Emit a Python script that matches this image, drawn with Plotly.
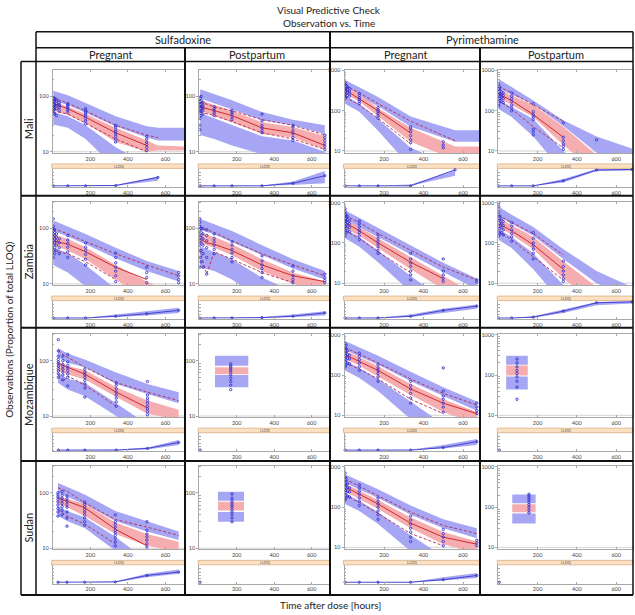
import plotly.graph_objects as go

# ---------------- data ----------------
COUNTRIES = ["Mali", "Zambia", "Mozambique", "Sudan"]
DRUGS = ["Sulfadoxine", "Pyrimethamine"]
GROUPS = ["Pregnant", "Postpartum"]
COL_KEYS = ["SP|Preg", "SP|Post", "PY|Preg", "PY|Post"]
X_TICKS = [200, 400, 600]
Y_TICKS_SP = [10, 100]
Y_TICKS_PY = [10, 100, 1000]

T_BAND = {
    "SP|Preg|Mali": [3, 80, 175, 335, 500, 560, 700],
    "SP|Post|Mali": [5, 80, 175, 335, 500, 670],
    "PY|Preg|Mali": [3, 75, 170, 335, 560, 690],
    "PY|Post|Mali": [1, 68, 178, 331, 500, 680],
    "SP|Preg|Zambia": [3, 80, 175, 335, 500, 670],
    "SP|Post|Zambia": [3, 80, 175, 335, 500, 670],
    "PY|Preg|Zambia": [3, 75, 170, 335, 500, 670],
    "PY|Post|Zambia": [1, 68, 178, 331, 500, 680],
    "SP|Preg|Mozambique": [28, 55, 80, 170, 338, 504, 670],
    "SP|Post|Mozambique": [84, 262],
    "PY|Preg|Mozambique": [3, 75, 170, 335, 500, 670],
    "PY|Post|Mozambique": [40, 150],
    "SP|Preg|Sudan": [28, 50, 76, 170, 333, 501, 670],
    "SP|Post|Sudan": [100, 239],
    "PY|Preg|Sudan": [3, 75, 170, 335, 500, 670],
    "PY|Post|Sudan": [71, 190],
}
HI_TOP = {
    "SP|Preg|Mali": [126, 105, 76, 44, 29, 27, 27],
    "SP|Post|Mali": [135, 110, 85, 52, 38, 30],
    "PY|Preg|Mali": [580, 380, 220, 72, 33, 33],
    "PY|Post|Mali": [620, 390, 180, 58, 23, 11.6],
    "SP|Preg|Zambia": [140, 110, 80, 45, 26, 17],
    "SP|Post|Zambia": [150, 120, 90, 50, 28, 17],
    "PY|Preg|Zambia": [650, 420, 240, 90, 32, 13],
    "PY|Post|Zambia": [800, 500, 250, 70, 20, 8],
    "SP|Preg|Mozambique": [168, 150, 135, 105, 61, 38, 27],
    "SP|Post|Mozambique": [123, 123],
    "PY|Preg|Mozambique": [700, 480, 300, 120, 50, 22],
    "PY|Post|Mozambique": [300, 300],
    "SP|Preg|Sudan": [151, 140, 130, 93, 47, 31, 20],
    "SP|Post|Sudan": [104, 104],
    "PY|Preg|Sudan": [650, 450, 280, 110, 50, 30],
    "PY|Post|Sudan": [205, 205],
}
HI_BOT = {
    "SP|Preg|Mali": [84, 70, 50, 29, 18, 16, 16],
    "SP|Post|Mali": [92, 75, 58, 37, 30, 21],
    "PY|Preg|Mali": [340, 230, 130, 40, 17, 17],
    "PY|Post|Mali": [370, 250, 145, 42, 9, 5],
    "SP|Preg|Zambia": [90, 72, 52, 29, 17, 11],
    "SP|Post|Zambia": [95, 78, 58, 33, 19, 12],
    "PY|Preg|Zambia": [380, 250, 140, 52, 19, 7],
    "PY|Post|Zambia": [450, 300, 150, 40, 10, 4],
    "SP|Preg|Mozambique": [115, 102, 92, 76, 38, 25, 17],
    "SP|Post|Mozambique": [81, 81],
    "PY|Preg|Mozambique": [420, 290, 180, 70, 30, 13],
    "PY|Post|Mozambique": [180, 180],
    "SP|Preg|Sudan": [100, 92, 85, 62, 31, 20, 14],
    "SP|Post|Sudan": [72, 72],
    "PY|Preg|Sudan": [400, 280, 170, 65, 30, 17],
    "PY|Post|Sudan": [125, 125],
}
MD_TOP = {
    "SP|Preg|Mali": [80, 66, 48, 27, 16, 13, 12.5],
    "SP|Post|Mali": [85, 70, 55, 34, 28, 19],
    "PY|Preg|Mali": [400, 260, 115, 38, 13, 13],
    "PY|Post|Mali": [350, 240, 140, 40, 8, 4],
    "SP|Preg|Zambia": [80, 65, 46, 22, 11, 6],
    "SP|Post|Zambia": [85, 70, 52, 28, 16, 11],
    "PY|Preg|Zambia": [380, 250, 130, 45, 15, 5],
    "PY|Post|Zambia": [420, 280, 140, 35, 8, 3],
    "SP|Preg|Mozambique": [93, 85, 80, 68, 33, 19, 13],
    "SP|Post|Mozambique": [76, 76],
    "PY|Preg|Mozambique": [400, 280, 165, 60, 25, 12],
    "PY|Post|Mozambique": [172, 172],
    "SP|Preg|Sudan": [87, 82, 78, 63, 29, 18, 13],
    "SP|Post|Sudan": [69, 69],
    "PY|Preg|Sudan": [380, 260, 150, 55, 24, 14],
    "PY|Post|Sudan": [118, 118],
}
MD_BOT = {
    "SP|Preg|Mali": [55, 46, 33, 15, 10, 10.5, 10.5],
    "SP|Post|Mali": [55, 45, 34, 21, 18, 11],
    "PY|Preg|Mali": [260, 170, 72, 17, 6, 6],
    "PY|Post|Mali": [200, 140, 70, 14, 3, 2],
    "SP|Preg|Zambia": [50, 40, 28, 12, 5, 2.5],
    "SP|Post|Zambia": [55, 45, 33, 17, 10, 7],
    "PY|Preg|Zambia": [230, 150, 75, 22, 7, 2],
    "PY|Post|Zambia": [240, 160, 70, 13, 3, 1],
    "SP|Preg|Mozambique": [66, 60, 56, 46, 22, 11, 8.5],
    "SP|Post|Mozambique": [57, 57],
    "PY|Preg|Mozambique": [250, 170, 95, 32, 12, 6],
    "PY|Post|Mozambique": [97, 97],
    "SP|Preg|Sudan": [62, 58, 55, 38, 18, 11, 8.5],
    "SP|Post|Sudan": [48, 48],
    "PY|Preg|Sudan": [240, 160, 90, 30, 12, 7],
    "PY|Post|Sudan": [75, 75],
}
LO_TOP = {
    "SP|Preg|Mali": [52, 44, 30, 12, 6, 5, 5],
    "SP|Post|Mali": [50, 40, 30, 19, 16, 10],
    "PY|Preg|Mali": [240, 150, 62, 12, 4, 4],
    "PY|Post|Mali": [190, 125, 62, 10, 2, 1],
    "SP|Preg|Zambia": [45, 36, 22, 8, 3, 1],
    "SP|Post|Zambia": [48, 38, 28, 13, 7, 4],
    "PY|Preg|Zambia": [220, 140, 65, 15, 4, 1],
    "PY|Post|Zambia": [220, 140, 55, 9, 2, 0.5],
    "SP|Preg|Mozambique": [60, 52, 47, 40, 17, 7, 4],
    "SP|Post|Mozambique": [55, 55],
    "PY|Preg|Mozambique": [230, 150, 80, 22, 6, 2],
    "PY|Post|Mozambique": [92, 92],
    "SP|Preg|Sudan": [58, 52, 47, 36, 16, 6, 3],
    "SP|Post|Sudan": [45, 45],
    "PY|Preg|Sudan": [220, 145, 75, 20, 6, 3],
    "PY|Post|Sudan": [70, 70],
}
LO_BOT = {
    "SP|Preg|Mali": [31, 27, 17, 5, 2, 2, 2],
    "SP|Post|Mali": [20, 17, 13, 9, 7, 6],
    "PY|Preg|Mali": [150, 95, 32, 4, 1, 1],
    "PY|Post|Mali": [110, 70, 23, 3, 1, 0.5],
    "SP|Preg|Zambia": [22, 16, 9, 3, 1, 0.5],
    "SP|Post|Zambia": [20, 17, 12, 5, 2.5, 1.5],
    "PY|Preg|Zambia": [130, 80, 33, 6, 1.5, 0.5],
    "PY|Post|Zambia": [120, 75, 22, 3, 0.6, 0.2],
    "SP|Preg|Mozambique": [40, 34, 30, 23, 10, 3, 1.5],
    "SP|Post|Mozambique": [33, 33],
    "PY|Preg|Mozambique": [130, 85, 40, 8, 2, 0.7],
    "PY|Post|Mozambique": [44, 44],
    "SP|Preg|Sudan": [38, 34, 31, 23, 9, 3, 1.5],
    "SP|Post|Sudan": [30, 30],
    "PY|Preg|Sudan": [120, 80, 38, 8, 2, 1],
    "PY|Post|Sudan": [39, 39],
}

T_OBS = {
    "SP|Preg|Mali": [3, 35, 80, 175, 335, 500, 560],
    "SP|Post|Mali": [5, 80, 175, 335, 500, 670],
    "PY|Preg|Mali": [3, 75, 170, 335, 560],
    "PY|Post|Mali": [1, 68, 178, 331],
    "SP|Preg|Zambia": [3, 80, 175, 335, 500, 670],
    "SP|Post|Zambia": [3, 20, 40, 80, 175, 335, 500, 670],
    "PY|Preg|Zambia": [3, 75, 170, 335, 500, 670],
    "PY|Post|Zambia": [1, 68, 178, 331],
    "SP|Preg|Mozambique": [30, 54, 80, 171, 338, 504, 670],
    "SP|Post|Mozambique": [],
    "PY|Preg|Mozambique": [3, 75, 170, 335, 500, 670],
    "PY|Post|Mozambique": [],
    "SP|Preg|Sudan": [28, 50, 76, 170, 333, 501, 670],
    "SP|Post|Sudan": [],
    "PY|Preg|Sudan": [3, 75, 170, 335, 500, 670],
    "PY|Post|Sudan": [],
}
OBS_HI = {
    "SP|Preg|Mali": [95, 85, 75, 55, 30, 20, 18],
    "SP|Post|Mali": [80, 65, 55, 38, 30, 20],
    "PY|Preg|Mali": [420, 280, 150, 55, 18],
    "PY|Post|Mali": [400, 280, 140, 55],
    "SP|Preg|Zambia": [100, 80, 58, 35, 22, 14],
    "SP|Post|Zambia": [110, 100, 95, 85, 60, 35, 22, 14],
    "PY|Preg|Zambia": [480, 320, 170, 65, 25, 12],
    "PY|Post|Zambia": [480, 320, 170, 50],
    "SP|Preg|Mozambique": [155, 130, 115, 76, 40, 27, 19],
    "SP|Post|Mozambique": [],
    "PY|Preg|Mozambique": [480, 330, 200, 80, 35, 18],
    "PY|Post|Mozambique": [],
    "SP|Preg|Sudan": [123, 115, 107, 66, 33, 24, 17],
    "SP|Post|Sudan": [],
    "PY|Preg|Sudan": [500, 330, 200, 75, 35, 22],
    "PY|Post|Sudan": [],
}
OBS_MED = {
    "SP|Preg|Mali": [72, 68, 60, 42, 22, 13, None],
    "SP|Post|Mali": [65, 55, 45, 27, 22, 13],
    "PY|Preg|Mali": [330, 200, 100, 28, None],
    "PY|Post|Mali": [260, 180, 80, 22],
    "SP|Preg|Zambia": [60, 52, 38, 20, 12, None],
    "SP|Post|Zambia": [65, 60, 55, 52, 40, 22, 14, 11],
    "PY|Preg|Zambia": [320, 200, 100, 33, 13, None],
    "PY|Post|Zambia": [300, 200, 90, 22],
    "SP|Preg|Mozambique": [90, 82, 76, 57, 27, 14, None],
    "SP|Post|Mozambique": [],
    "PY|Preg|Mozambique": [320, 220, 130, 45, 20, 11],
    "PY|Post|Mozambique": [],
    "SP|Preg|Sudan": [81, 76, 71, 54, 22, 11, None],
    "SP|Post|Sudan": [],
    "PY|Preg|Sudan": [320, 210, 120, 40, 18, 12],
    "PY|Post|Sudan": [],
}
OBS_LO = {
    "SP|Preg|Mali": [50, 52, 48, 33, 17, 10, None],
    "SP|Post|Mali": [52, 45, 35, 22, 17, 11],
    "PY|Preg|Mali": [220, 140, 65, 15, None],
    "PY|Post|Mali": [180, 110, 40, 12],
    "SP|Preg|Zambia": [40, 35, 25, 12, None, None],
    "SP|Post|Zambia": [40, 25, 15, 38, 28, 16, 10.5, None],
    "PY|Preg|Zambia": [200, 130, 60, 18, None, None],
    "PY|Post|Zambia": [190, 120, 45, 12],
    "SP|Preg|Mozambique": [57, 42, 53, 36, 15, None, None],
    "SP|Post|Mozambique": [],
    "PY|Preg|Mozambique": [200, 140, 80, 25, 11, None],
    "PY|Post|Mozambique": [],
    "SP|Preg|Sudan": [50, 44, 38, 27, 12, None, None],
    "SP|Post|Sudan": [],
    "PY|Preg|Sudan": [200, 130, 70, 22, 11, None],
    "PY|Post|Sudan": [],
}

# observations: [time bin, [concentrations]]
PTS = {
    "SP|Preg|Mali": [[3, [50, 55, 60, 65, 70, 75, 80, 85, 90, 95]], [10, [48, 58, 62, 70, 78, 85, 92]],
                     [20, [45, 60, 68, 74, 82, 88]], [35, [55, 62, 68, 72, 78]], [80, [52, 57, 62, 66, 70, 74]],
                     [175, [32, 36, 40, 44, 48, 52, 56, 60]], [335, [15, 17, 19, 21, 23, 25, 28, 30]],
                     [500, [10.5, 12, 13.5, 15, 17, 19]]],
    "SP|Post|Mali": [[3, [25, 30, 40, 50, 55, 60, 65, 70, 75, 80, 90, 95]], [10, [45, 55, 62, 68, 74, 85, 100]],
                     [20, [48, 56, 63, 70, 78]], [80, [45, 50, 55, 60, 65]], [175, [38, 42, 48, 52, 56]],
                     [335, [22, 24, 27, 30, 36, 48]], [500, [16, 18, 21, 24, 28, 30]],
                     [670, [11, 12.5, 14, 16, 18, 20]]],
    "PY|Preg|Mali": [[3, [200, 250, 300, 350, 400, 450, 500]], [8, [220, 270, 320, 380, 430]],
                     [15, [240, 290, 340, 390]], [25, [230, 270, 310, 360]], [75, [150, 170, 190, 210, 240, 270]],
                     [170, [65, 75, 85, 95, 105, 120]], [335, [11, 16, 19, 24, 30, 35, 40]],
                     [500, [12, 14, 17]]],
    "PY|Post|Mali": [[2, [130, 150, 200, 250, 300, 350, 400, 450]], [8, [180, 220, 260, 320, 380]],
                     [15, [170, 210, 250, 300]], [25, [160, 200, 240, 280]], [68, [100, 120, 140, 170, 200, 230, 280]],
                     [178, [25, 30, 35, 60, 70, 80, 95, 150]], [331, [11, 13, 15, 18, 22, 50]], [500, [19]]],
    "SP|Preg|Zambia": [[3, [30, 40, 50, 60, 70, 80, 90, 100, 110, 150]], [10, [35, 45, 55, 65, 75, 85, 95]],
                       [20, [40, 50, 60, 70, 80]], [35, [35, 45, 55, 65]], [80, [30, 38, 46, 54, 62, 75]],
                       [175, [22, 28, 34, 40, 46, 55]], [335, [11, 14, 17, 20, 24, 30, 36]],
                       [500, [10.5, 13, 16, 20]], [670, [10.5, 12, 14, 16]]],
    "SP|Post|Zambia": [[3, [20, 30, 40, 50, 60, 70, 80, 95, 110, 130, 150]], [10, [25, 40, 55, 70, 85, 100]],
                       [20, [20, 35, 50, 65, 80, 100]], [40, [15, 30, 45, 60, 75, 95]],
                       [80, [35, 42, 50, 58, 66, 80]], [175, [25, 30, 36, 42, 50, 58]],
                       [335, [13, 16, 19, 22, 26, 32]], [500, [10.5, 12, 14, 17, 21]], [670, [10.5, 11.5, 13, 15]]],
    "PY|Preg|Zambia": [[3, [150, 200, 250, 300, 350, 400, 500, 600, 700]], [8, [180, 230, 290, 350, 420, 500]],
                       [15, [200, 260, 320, 380, 450]], [25, [190, 240, 300, 360]],
                       [75, [120, 150, 180, 210, 250, 300, 350]], [170, [55, 65, 80, 95, 110, 130, 160]],
                       [335, [12, 16, 20, 26, 32, 40, 55]], [500, [11, 13, 16, 20, 40]], [670, [10.5, 12]]],
    "PY|Post|Zambia": [[2, [150, 200, 260, 320, 400, 500, 600, 800, 1000]], [8, [170, 230, 300, 380, 460]],
                       [15, [180, 240, 310, 390]], [25, [160, 210, 270, 340]],
                       [68, [110, 140, 170, 210, 260, 320]], [178, [40, 55, 70, 85, 100, 130, 180]],
                       [331, [11, 13, 16, 20, 26, 35]]],
    "SP|Preg|Mozambique": [[30, [50, 58, 65, 72, 80, 88, 95, 105, 120, 150, 240]],
                           [54, [45, 55, 62, 70, 78, 86, 100, 120]], [80, [35, 50, 58, 66, 74, 82, 95, 130]],
                           [171, [22, 32, 38, 44, 50, 56, 62, 70]], [338, [15, 18, 21, 24, 27, 31, 36, 40]],
                           [504, [10.5, 12, 13.5, 15, 17, 19, 21, 24, 42]]],
    "SP|Post|Mozambique": [[168, [30, 36, 42, 48, 55, 62, 68, 74, 80, 88]]],
    "PY|Preg|Mozambique": [[3, [160, 220, 280, 340, 400, 480, 600]], [8, [180, 240, 300, 380, 450, 550]],
                           [15, [200, 260, 320, 400]], [25, [190, 250, 310]],
                           [75, [130, 160, 200, 240, 290, 350]], [170, [70, 90, 110, 130, 150, 180]],
                           [335, [20, 27, 35, 45, 55, 70]], [500, [12, 16, 20, 25, 30, 40, 150]],
                           [670, [11, 13, 16, 20]]],
    "PY|Post|Mozambique": [[95, [25, 50, 70, 90, 110, 130, 160, 200, 250]]],
    "SP|Preg|Sudan": [[28, [38, 45, 52, 60, 68, 76, 84, 92, 100]], [50, [40, 48, 56, 64, 72, 80, 90, 105]],
                      [76, [25, 35, 45, 55, 62, 70, 78, 88]], [170, [26, 30, 35, 40, 45, 50, 56, 62, 68]],
                      [333, [11, 13, 15, 17, 19, 21, 24, 27, 30, 40]], [501, [10.5, 12, 14, 16, 18, 21, 30]]],
    "SP|Post|Sudan": [[175, [30, 35, 40, 45, 50, 55, 60, 66, 72, 80, 95]]],
    "PY|Preg|Sudan": [[3, [150, 200, 260, 320, 380, 450, 550, 700]], [8, [170, 230, 290, 360, 440, 520]],
                      [15, [190, 250, 310, 380]], [25, [180, 240, 300]],
                      [75, [110, 140, 170, 210, 250, 300, 360]], [170, [50, 65, 80, 100, 120, 140, 170]],
                      [335, [14, 18, 24, 30, 38, 48, 60]], [500, [11, 14, 18, 22, 28]], [670, [11, 13, 15]]],
    "PY|Post|Sudan": [[156, [72, 85, 100, 115, 130, 150, 170, 190, 210]]],
}

# proportion below LLOQ (lower strip)
BQ_T = {
    "SP|Preg|Mali": [3, 80, 175, 335, 560],
    "SP|Post|Mali": [5, 80, 175, 335, 500, 670],
    "PY|Preg|Mali": [3, 75, 170, 335, 560],
    "PY|Post|Mali": [1, 68, 178, 331, 500, 680],
    "SP|Preg|Zambia": [3, 80, 175, 335, 500, 670],
    "SP|Post|Zambia": [3, 80, 175, 335, 500, 670],
    "PY|Preg|Zambia": [3, 75, 170, 335, 500, 670],
    "PY|Post|Zambia": [1, 68, 178, 331, 500, 680],
    "SP|Preg|Mozambique": [30, 80, 171, 338, 504, 670],
    "SP|Post|Mozambique": [5],
    "PY|Preg|Mozambique": [3, 75, 170, 335, 500, 670],
    "PY|Post|Mozambique": [5],
    "SP|Preg|Sudan": [28, 76, 170, 333, 501, 670],
    "SP|Post|Sudan": [5],
    "PY|Preg|Sudan": [3, 75, 170, 335, 500, 670],
    "PY|Post|Sudan": [5],
}
BQ_LO = {
    "SP|Preg|Mali": [0, 0, 0, 0, 0.3],
    "SP|Post|Mali": [0, 0, 0, 0, 0.05, 0.15],
    "PY|Preg|Mali": [0, 0, 0, 0, 0.6],
    "PY|Post|Mali": [0, 0, 0, 0.2, 0.88, 0.9],
    "SP|Preg|Zambia": [0, 0, 0, 0.05, 0.15, 0.3],
    "SP|Post|Zambia": [0, 0, 0, 0, 0.05, 0.15],
    "PY|Preg|Zambia": [0, 0, 0, 0.05, 0.3, 0.55],
    "PY|Post|Zambia": [0, 0, 0.02, 0.3, 0.75, 0.85],
    "SP|Preg|Mozambique": [0, 0, 0, 0, 0.03, 0.3],
    "SP|Post|Mozambique": [0],
    "PY|Preg|Mozambique": [0, 0, 0, 0, 0.1, 0.3],
    "PY|Post|Mozambique": [0],
    "SP|Preg|Sudan": [0, 0, 0, 0, 0.3, 0.5],
    "SP|Post|Sudan": [0],
    "PY|Preg|Sudan": [0, 0, 0, 0, 0.1, 0.25],
    "PY|Post|Sudan": [0],
}
BQ_HI = {
    "SP|Preg|Mali": [0, 0.01, 0.02, 0.05, 0.55],
    "SP|Post|Mali": [0, 0, 0, 0.02, 0.25, 0.88],
    "PY|Preg|Mali": [0, 0, 0.02, 0.08, 0.9],
    "PY|Post|Mali": [0, 0, 0.02, 0.4, 1.0, 1.0],
    "SP|Preg|Zambia": [0, 0, 0.02, 0.2, 0.4, 0.6],
    "SP|Post|Zambia": [0, 0, 0, 0.05, 0.2, 0.4],
    "PY|Preg|Zambia": [0, 0, 0.02, 0.2, 0.55, 0.8],
    "PY|Post|Zambia": [0, 0, 0.1, 0.5, 0.95, 1.0],
    "SP|Preg|Mozambique": [0, 0, 0, 0.03, 0.15, 0.6],
    "SP|Post|Mozambique": [0],
    "PY|Preg|Mozambique": [0, 0, 0, 0.02, 0.3, 0.65],
    "PY|Post|Mozambique": [0],
    "SP|Preg|Sudan": [0, 0, 0, 0.05, 0.5, 0.75],
    "SP|Post|Sudan": [0],
    "PY|Preg|Sudan": [0, 0, 0, 0.02, 0.3, 0.55],
    "PY|Post|Sudan": [0],
}
BQ_OBS = {
    "SP|Preg|Mali": [0, 0, 0, 0.02, 0.5],
    "SP|Post|Mali": [0, 0, 0, 0, 0.15, 0.6],
    "PY|Preg|Mali": [0, 0, 0, 0, 0.95],
    "PY|Post|Mali": [0, 0, 0, 0.3, 0.93, 0.97],
    "SP|Preg|Zambia": [0, 0, 0, 0.1, 0.25, 0.45],
    "SP|Post|Zambia": [0, 0, 0, 0.02, 0.1, 0.3],
    "PY|Preg|Zambia": [0, 0, 0, 0.1, 0.45, 0.7],
    "PY|Post|Zambia": [0, 0, 0.05, 0.4, 0.9, 0.95],
    "SP|Preg|Mozambique": [0, 0, 0, 0, 0.1, 0.45],
    "SP|Post|Mozambique": [0],
    "PY|Preg|Mozambique": [0, 0, 0, 0, 0.15, 0.5],
    "PY|Post|Mozambique": [0],
    "SP|Preg|Sudan": [0, 0, 0, 0.02, 0.4, 0.6],
    "SP|Post|Sudan": [0],
    "PY|Preg|Sudan": [0, 0, 0, 0, 0.15, 0.4],
    "PY|Post|Sudan": [0],
}

# ---------------- layout geometry (pixels) ----------------
W, H = 635, 615
COL_X0 = [36, 185, 330, 480]
COL_X1 = [185, 330, 480, 633]
AX0 = [52.7, 199.2, 344.5, 498.3]     # pixel of t = 0
PX200 = [37.6, 37.5, 39.5, 39.3]      # pixels per 200 h
MAIN_BOT0, PITCH, MAIN_H = 152, 133, 84
ROW_LINES = [60, 195, 328, 462, 597]

BLUE = "#A6A6F4"
PINK = "#F6ADB0"
RED = "#D02A2A"
DRED = "#B8284A"
PTBLUE = "#3434D2"
AXC = "#A8A8A8"
FONT = "Lato, 'Open Sans', sans-serif"


def px(x):
    return x / W


def py(y):
    return 1 - y / H


def note(text, x, y, font, angle=0):
    return dict(text=text, x=px(x), y=py(y), xref="paper", yref="paper", showarrow=False,
                xanchor="center", yanchor="middle", textangle=angle, font=font)


fig = go.Figure()
layout = {}
shapes = []
annotations = []
tickfont = dict(size=5.5, color="#444", family=FONT)

idx = 0
for r, country in enumerate(COUNTRIES):
    for c, ck in enumerate(COL_KEYS):
        key = f"{ck}|{country}"
        is_py = ck.startswith("PY")
        im, il = 2 * idx + 1, 2 * idx + 2
        xm, ym = ("x", "y") if im == 1 else (f"x{im}", f"y{im}")
        xl, yl = f"x{il}", f"y{il}"
        bot = MAIN_BOT0 + PITCH * r
        top = bot - MAIN_H
        xmax = (COL_X1[c] - AX0[c]) / PX200[c] * 200
        xdom = [px(AX0[c]), px(COL_X1[c])]

        if is_py:
            yr = [0.95, 0.95 + MAIN_H / 40.5]
            yt = Y_TICKS_PY
            minors = [v * m for v in [10, 100] for m in range(2, 10)]
        else:
            yr = [0.977, 0.977 + MAIN_H / 55.7]
            yt = Y_TICKS_SP
            minors = [v * m for v in [1, 10, 100] for m in range(2, 10)]

        layout["xaxis" if im == 1 else f"xaxis{im}"] = dict(
            domain=xdom, range=[0, xmax], anchor=ym, tickvals=X_TICKS,
            ticks="inside", ticklen=2, tickcolor=AXC, showline=True, linecolor=AXC,
            linewidth=1, mirror="ticks", showgrid=False, zeroline=False,
            tickfont=tickfont, ticklabelstandoff=0)
        layout[f"yaxis{'' if im == 1 else im}"] = dict(
            domain=[py(bot), py(top)], type="log", range=yr, anchor=xm,
            tickvals=yt, ticktext=[str(v) for v in yt], ticks="outside", ticklen=2,
            tickcolor=AXC, showline=True, linecolor=AXC, linewidth=1, mirror=True,
            showgrid=False, zeroline=False, tickfont=tickfont,
            minor=dict(tickvals=minors, ticks="inside", ticklen=1.5, tickcolor=AXC))
        layout[f"xaxis{il}"] = dict(
            domain=xdom, range=[0, xmax], anchor=yl, tickvals=X_TICKS,
            ticks="inside", ticklen=2, tickcolor=AXC, showline=True, linecolor=AXC,
            linewidth=1, showgrid=False, zeroline=False, tickfont=tickfont,
            ticklabelstandoff=0)
        layout[f"yaxis{il}"] = dict(
            domain=[py(bot + 34.4), py(bot + 16)], range=[-0.08, 1.0], anchor=xl,
            tickvals=[0, 0.2, 0.4, 0.6, 0.8, 1.0], ticks="inside", ticklen=1.5,
            tickcolor=AXC, showticklabels=False, showline=True, linecolor=AXC,
            linewidth=1, showgrid=False, zeroline=False)

        # thin reference line at the lowest major tick (10)
        shapes.append(dict(type="line", xref=f"{xm} domain", yref=ym, x0=0, x1=1, y0=10, y1=10,
                           line=dict(color="#C8C8C8", width=0.8), layer="below"))

        t = T_BAND[key]
        for tp, bt, colr in [(HI_TOP, HI_BOT, BLUE), (LO_TOP, LO_BOT, BLUE), (MD_TOP, MD_BOT, PINK)]:
            fig.add_trace(go.Scatter(
                x=t + t[::-1], y=tp[key] + bt[key][::-1], fill="toself", fillcolor=colr,
                mode="lines", line=dict(width=0), xaxis=xm, yaxis=ym, hoverinfo="skip"))

        to = T_OBS[key]
        if to:
            for arr, colr, dash, wd in [(OBS_HI, DRED, "3px,2px", 0.9), (OBS_LO, DRED, "3px,2px", 0.9),
                                        (OBS_MED, RED, "solid", 1.0)]:
                fig.add_trace(go.Scatter(x=to, y=arr[key], mode="lines",
                                         line=dict(color=colr, width=wd, dash=dash),
                                         xaxis=xm, yaxis=ym, hoverinfo="skip"))

        ptx, pty = [], []
        for tb, vals in PTS[key]:
            ptx += [tb] * len(vals)
            pty += vals
        fig.add_trace(go.Scatter(x=ptx, y=pty, mode="markers",
                                 marker=dict(symbol="circle-open", size=2.4, color=PTBLUE,
                                             line=dict(width=0.9, color=PTBLUE)),
                                 xaxis=xm, yaxis=ym, hoverinfo="skip"))

        bt_ = BQ_T[key]
        if len(bt_) > 1:
            fig.add_trace(go.Scatter(
                x=bt_ + bt_[::-1], y=BQ_HI[key] + BQ_LO[key][::-1], fill="toself",
                fillcolor=BLUE, mode="lines", line=dict(width=0), xaxis=xl, yaxis=yl,
                hoverinfo="skip"))
        fig.add_trace(go.Scatter(x=bt_, y=BQ_OBS[key], mode="lines+markers",
                                 line=dict(color="#3A3AC8", width=0.9),
                                 marker=dict(symbol="circle-open", size=2.2, color="#3A3AC8"),
                                 xaxis=xl, yaxis=yl, hoverinfo="skip", cliponaxis=False))

        # LLOQ bar
        shapes.append(dict(type="rect", xref="paper", yref="paper",
                           x0=px(AX0[c] - 1), x1=px(COL_X1[c]),
                           y0=py(bot + 15.5), y1=py(bot + 11),
                           fillcolor="#FCE0C2", line=dict(color="#D8AE86", width=0.8), layer="below"))
        annotations.append(note("LLOQ", (AX0[c] + COL_X1[c]) / 2, bot + 13.3,
                                dict(size=3.8, color="#555", family=FONT)))
        idx += 1

# ---------------- table frame ----------------
def hline(y, x0, x1, w=1.5):
    shapes.append(dict(type="line", xref="paper", yref="paper", x0=px(x0), x1=px(x1),
                       y0=py(y), y1=py(y), line=dict(color="#111", width=w)))


def vline(x, y0, y1, w=1.5):
    shapes.append(dict(type="line", xref="paper", yref="paper", x0=px(x), x1=px(x),
                       y0=py(y0), y1=py(y1), line=dict(color="#111", width=w)))


hline(30, 36, 633)
hline(46, 36, 633)
hline(60, 21, 633)
for yy in ROW_LINES[1:]:
    hline(yy, 21, 633, 2)
vline(21, 60, 597)
vline(36, 30, 597)
vline(185, 46, 597, 2)
vline(330, 30, 597, 2)
vline(480, 46, 597, 2)
vline(633, 30, 597)

hdr = dict(size=11, color="#222", family=FONT)
annotations.append(note(DRUGS[0], 183, 38, hdr))
annotations.append(note(DRUGS[1], 482, 38, hdr))
for cx, g in zip([110, 257, 405, 556], GROUPS * 2):
    annotations.append(note(g, cx, 53, hdr))
for r, country in enumerate(COUNTRIES):
    annotations.append(note(country, 28.5, (ROW_LINES[r] + ROW_LINES[r + 1]) / 2, hdr, -90))

small = dict(size=10, color="#222", family=FONT)
annotations.append(note("Visual Predictive Check", 329, 8, small))
annotations.append(note("Observation vs. Time", 329, 21, small))
annotations.append(note("Time after dose [hours]", 330, 607, small))
annotations.append(note("Observations (Proportion of total LLOQ)", 9, 330, small, -90))

fig.update_layout(width=W, height=H, autosize=False, margin=dict(l=0, r=0, t=0, b=0),
                  paper_bgcolor="white", plot_bgcolor="white", showlegend=False,
                  shapes=shapes, annotations=annotations, font=dict(family=FONT), **layout)

fig.write_html("out.html", config={"displayModeBar": False},
               post_script="document.body.style.margin='0px';")
